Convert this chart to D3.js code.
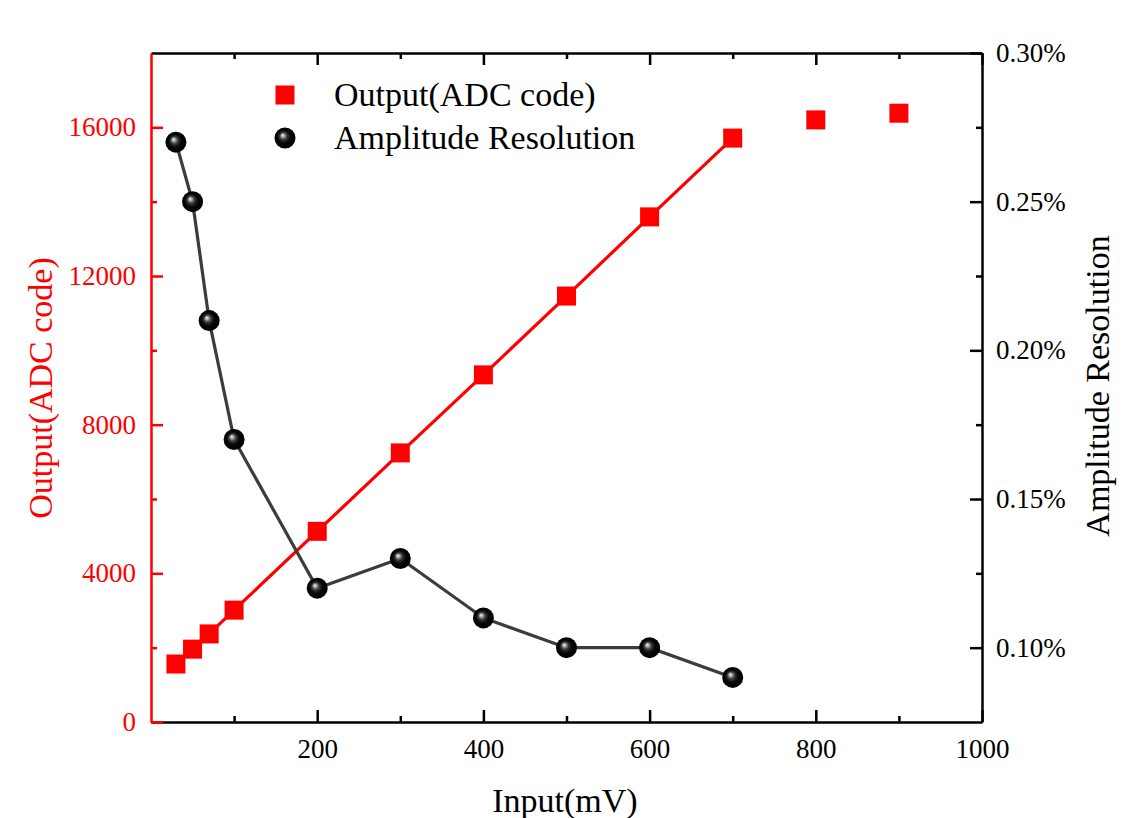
<!DOCTYPE html>
<html>
<head>
<meta charset="utf-8">
<script src="https://cdn.jsdelivr.net/npm/d3@7"></script>
<style>
  html, body { margin: 0; padding: 0; background: #fff; }
  svg, svg text { font-family: "Liberation Serif", "Times New Roman", serif !important; }
  svg { display: block; }
</style>
</head>
<body>
<svg id="chart" width="1124" height="818"></svg>
<script>
// ---- data ----
const inputX = [30, 50, 70, 100, 200, 300, 400, 500, 600, 700, 800, 900];
const outputCode = [1560, 1960, 2370, 3010, 5130, 7240, 9340, 11460, 13590, 15710, 16200, 16380];
const resX = [30, 50, 70, 100, 200, 300, 400, 500, 600, 700];
const resolution = [0.27, 0.25, 0.21, 0.17, 0.12, 0.13, 0.11, 0.10, 0.10, 0.09]; // percent
const xMajor = [200, 400, 600, 800, 1000];
const xMinor = [100, 300, 500, 700, 900];
const yLeftMajor = [0, 4000, 8000, 12000, 16000];
const yLeftMinor = [2000, 6000, 10000, 14000];
const yRightMajor = [0.10, 0.15, 0.20, 0.25, 0.30];
const yRightMinor = [0.125, 0.175, 0.225, 0.275];
const legendLabels = ["Output(ADC code)", "Amplitude Resolution"];
const fitCount = 10; // line drawn through the first 10 output points (30..700 mV)

// ---- layout ----
const L = 151, R = 982, T = 53, B = 722;
const svg = d3.select("#chart");
const FONT = "Liberation Serif, Times New Roman, serif";

const x = d3.scaleLinear().domain([0, 1000]).range([L, R]);
const yL = d3.scaleLinear().domain([0, 18000]).range([B, T]);
const yR = d3.scaleLinear().domain([0.075, 0.30]).range([B, T]);

const RED = "#ff0000";
const tickFont = 27;
const titleFont = 34;

// gradient for spheres
const defs = svg.append("defs");
const grad = defs.append("radialGradient").attr("id", "sphere")
  .attr("cx", "50%").attr("cy", "50%").attr("r", "50%")
  .attr("fx", "38%").attr("fy", "36%");
grad.append("stop").attr("offset", "0%").attr("stop-color", "#f4f4f4");
grad.append("stop").attr("offset", "14%").attr("stop-color", "#b0b0b0");
grad.append("stop").attr("offset", "35%").attr("stop-color", "#3a3a3a");
grad.append("stop").attr("offset", "60%").attr("stop-color", "#080808");
grad.append("stop").attr("offset", "100%").attr("stop-color", "#000");

function styleAxis(g, color) {
  g.attr("font-family", FONT).attr("font-size", tickFont);
  g.select(".domain").attr("stroke", color).attr("stroke-width", 2.5);
  g.selectAll(".tick line").attr("stroke", color).attr("stroke-width", 2.5);
  g.selectAll(".tick text").attr("fill", color);
}

// bottom axis
const gB = svg.append("g").attr("transform", `translate(0,${B})`)
  .call(d3.axisBottom(x).tickValues(xMajor).tickSizeInner(-12).tickSizeOuter(0).tickPadding(17).tickFormat(d3.format("d")));
styleAxis(gB, "#000");
svg.append("g").attr("transform", `translate(0,${B})`)
  .call(d3.axisBottom(x).tickValues(xMinor).tickSizeInner(-6).tickSizeOuter(0).tickFormat(""))
  .call(g => { g.select(".domain").remove(); styleAxis(g, "#000"); });

// top axis
const gT = svg.append("g").attr("transform", `translate(0,${T})`)
  .call(d3.axisTop(x).tickValues(xMajor).tickSizeInner(-12).tickSizeOuter(0).tickFormat(""));
styleAxis(gT, "#000");
svg.append("g").attr("transform", `translate(0,${T})`)
  .call(d3.axisTop(x).tickValues(xMinor).tickSizeInner(-6).tickSizeOuter(0).tickFormat(""))
  .call(g => { g.select(".domain").remove(); styleAxis(g, "#000"); });

// right axis
const gR = svg.append("g").attr("transform", `translate(${R},0)`)
  .call(d3.axisRight(yR).tickValues(yRightMajor).tickSizeInner(-12).tickSizeOuter(0).tickPadding(14)
    .tickFormat(d => d.toFixed(2) + "%"));
styleAxis(gR, "#000");
svg.append("g").attr("transform", `translate(${R},0)`)
  .call(d3.axisRight(yR).tickValues(yRightMinor).tickSizeInner(-6).tickSizeOuter(0).tickFormat(""))
  .call(g => { g.select(".domain").remove(); styleAxis(g, "#000"); });

// left axis (red)
const gL = svg.append("g").attr("transform", `translate(${L},0)`)
  .call(d3.axisLeft(yL).tickValues(yLeftMajor).tickSizeInner(-12).tickSizeOuter(0).tickPadding(15).tickFormat(d3.format("d")));
styleAxis(gL, RED);
svg.append("g").attr("transform", `translate(${L},0)`)
  .call(d3.axisLeft(yL).tickValues(yLeftMinor).tickSizeInner(-6).tickSizeOuter(0).tickFormat(""))
  .call(g => { g.select(".domain").remove(); styleAxis(g, RED); });

// ---- series ----
const outData = inputX.map((v, i) => ({ x: v, y: outputCode[i] }));
const resData = resX.map((v, i) => ({ x: v, y: resolution[i] }));

// red line
svg.append("path").datum(outData.slice(0, fitCount))
  .attr("fill", "none").attr("stroke", RED).attr("stroke-width", 3.2)
  .attr("d", d3.line().x(d => x(d.x)).y(d => yL(d.y)));

// black line
svg.append("path").datum(resData)
  .attr("fill", "none").attr("stroke", "#3c3c3c").attr("stroke-width", 3.2)
  .attr("d", d3.line().x(d => x(d.x)).y(d => yR(d.y)));

// red squares
const S = 19;
svg.append("g").selectAll("rect").data(outData).join("rect")
  .attr("x", d => x(d.x) - S / 2).attr("y", d => yL(d.y) - S / 2)
  .attr("width", S).attr("height", S).attr("fill", RED);

// spheres
svg.append("g").selectAll("circle").data(resData).join("circle")
  .attr("cx", d => x(d.x)).attr("cy", d => yR(d.y)).attr("r", 10.5)
  .attr("fill", "url(#sphere)");

// ---- legend ----
const lg = svg.append("g").attr("font-family", FONT);
lg.append("rect").attr("x", 285 - S / 2).attr("y", 95 - S / 2).attr("width", S).attr("height", S).attr("fill", RED);
lg.append("circle").attr("cx", 285).attr("cy", 138).attr("r", 10.5).attr("fill", "url(#sphere)");
lg.selectAll("text").data(legendLabels).join("text")
  .attr("x", 334).attr("y", (d, i) => 106 + i * 43)
  .attr("font-size", titleFont).attr("fill", "#000").text(d => d);

// ---- axis titles ----
const tg = svg.append("g").attr("font-family", FONT).attr("font-size", titleFont);
tg.append("text").attr("x", 565).attr("y", 812).attr("text-anchor", "middle")
  .attr("fill", "#000").text("Input(mV)");
tg.append("text").attr("transform", "translate(52,388) rotate(-90)").attr("text-anchor", "middle")
  .attr("fill", RED).text("Output(ADC code)");
tg.append("text").attr("transform", "translate(1109,386) rotate(-90)").attr("text-anchor", "middle")
  .attr("fill", "#000").text("Amplitude Resolution");
</script>
</body>
</html>
